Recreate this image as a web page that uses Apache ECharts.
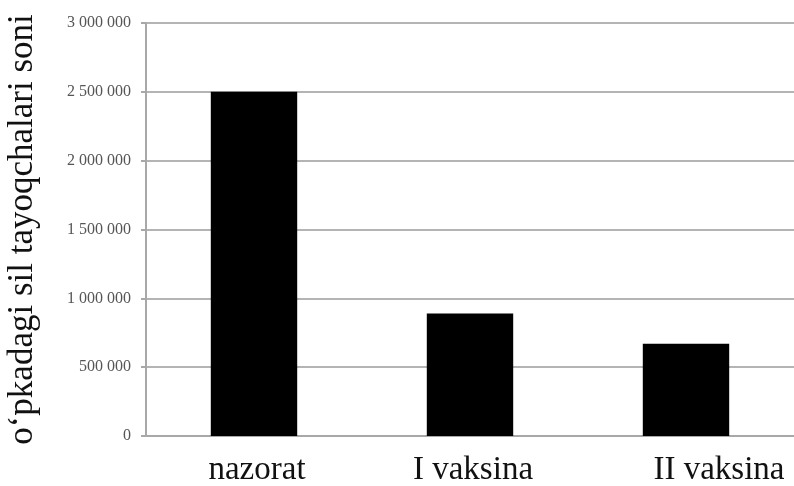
<!DOCTYPE html>
<html><head><meta charset="utf-8">
<script src="https://cdn.jsdelivr.net/npm/echarts@6/dist/echarts.min.js"></script>
<style>html,body{margin:0;padding:0;background:#fff}#c{width:794px;height:486px}</style>
</head><body><div id="c"></div>
<script>
const categories = ['nazorat', 'I vaksina', 'II vaksina'];
const values = [2500000, 890000, 670000];
const yTitle = 'o\u2018pkadagi sil tayoqchalari soni';
const yMin = 0, yMax = 3000000, yStep = 500000;

const chart = echarts.init(document.getElementById('c'), null, {renderer: 'canvas'});
chart.setOption({
  backgroundColor: '#fff',
  animation: false,
  grid: {left: 146, right: 0, top: 23, bottom: 50, containLabel: false, outerBoundsMode: 'none'},
  xAxis: {
    type: 'category',
    data: categories.map((c, i) => i === 2 ? {value: c, textStyle: {padding: [0, 0, 0, 66]}} : {value: c, textStyle: {padding: [0, 0, 0, 6]}}),
    axisLine: {lineStyle: {color: '#a8a8a8', width: 2}},
    axisTick: {show: false},
    axisLabel: {fontFamily: 'Liberation Serif', fontSize: 33, color: '#111', margin: 18}
  },
  yAxis: {
    type: 'value', min: yMin, max: yMax, interval: yStep,
    name: yTitle, nameLocation: 'middle', nameGap: 106,
    nameTextStyle: {fontFamily: 'Liberation Serif', fontSize: 35, color: '#111'},
    axisLine: {show: true, lineStyle: {color: '#a8a8a8', width: 2}},
    axisTick: {show: true, length: 5, lineStyle: {color: '#a8a8a8', width: 2}},
    splitLine: {lineStyle: {color: '#b4b4b4', width: 2}},
    axisLabel: {fontFamily: 'Liberation Serif', fontSize: 16, color: '#555', margin: 15,
      formatter: v => String(v).replace(/\B(?=(\d{3})+(?!\d))/g, ' ')}
  },
  series: [{
    type: 'bar', data: values, barWidth: '40%',
    itemStyle: {color: '#000'}
  }]
});
</script></body></html>
